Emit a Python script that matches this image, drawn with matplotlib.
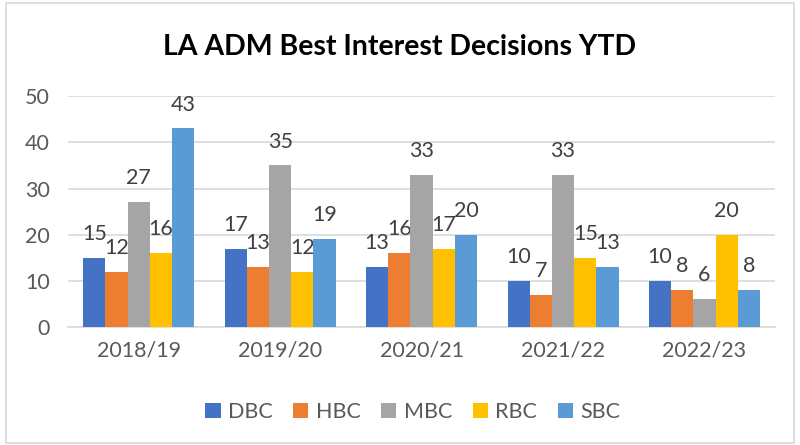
import matplotlib
matplotlib.use("Agg")
import matplotlib.pyplot as plt
import numpy as np
from matplotlib.patches import Rectangle

categories = ["2018/19", "2019/20", "2020/21", "2021/22", "2022/23"]
series_names = ["DBC", "HBC", "MBC", "RBC", "SBC"]
dbc = [15, 17, 13, 10, 10]
hbc = [12, 13, 16, 7, 8]
mbc = [27, 35, 33, 33, 6]
rbc = [16, 12, 17, 15, 20]
sbc = [43, 19, 20, 13, 8]
series_values = [dbc, hbc, mbc, rbc, sbc]
colors = ["#4472C4", "#ED7D31", "#A5A5A5", "#FFC000", "#5B9BD5"]
yticks = [0, 10, 20, 30, 40, 50]

plt.rcParams['font.family'] = ['Lato', 'DejaVu Sans']
txt = "#595959"
fs = 15.5

fig = plt.figure(figsize=(8, 4.45), dpi=100)
ax = fig.add_axes([0.085, 0.265, 0.884, 0.519])

x = np.arange(len(categories))
bw = 0.157
n = len(series_names)
for i, (name, vals, c) in enumerate(zip(series_names, series_values, colors)):
    pos = x + (i - (n - 1) / 2) * bw
    bars = ax.bar(pos, vals, bw, color=c, label=name, zorder=3)
    for b, v in zip(bars, vals):
        ax.annotate(str(v), (b.get_x() + b.get_width() / 2, v),
                    xytext=(0, 10), textcoords="offset points",
                    ha="center", va="bottom", fontsize=fs, color="#404040")

ax.set_ylim(0, 50)
ax.set_xlim(-0.5, len(categories) - 0.5)
ax.set_yticks(yticks)
ax.set_xticks(x)
ax.set_xticklabels(categories)
ax.grid(axis="y", color="#D9D9D9", linewidth=1.2, zorder=0)
for s in ["top", "right", "left"]:
    ax.spines[s].set_visible(False)
ax.spines["bottom"].set_color("#D9D9D9")
ax.spines["bottom"].set_linewidth(1.2)
ax.tick_params(axis="both", length=0, labelsize=fs, labelcolor=txt)
ax.tick_params(axis="y", pad=13)
ax.tick_params(axis="x", pad=10)

fig.text(0.5, 0.895, "LA ADM Best Interest Decisions YTD", ha="center", va="center",
         fontsize=20.5, fontweight="bold", color="black")

fig.legend(loc="center", bbox_to_anchor=(0.516, 0.074), ncol=5, frameon=False,
           fontsize=fs, handlelength=0.7, handleheight=0.7, columnspacing=0.95,
           handletextpad=0.35, labelcolor=txt)

fig.patches.append(Rectangle((0.008, 0.004), 0.985, 0.99, transform=fig.transFigure,
                             fill=False, edgecolor="#D9D9D9", linewidth=1.2))

fig.savefig("out.png", dpi=100)
